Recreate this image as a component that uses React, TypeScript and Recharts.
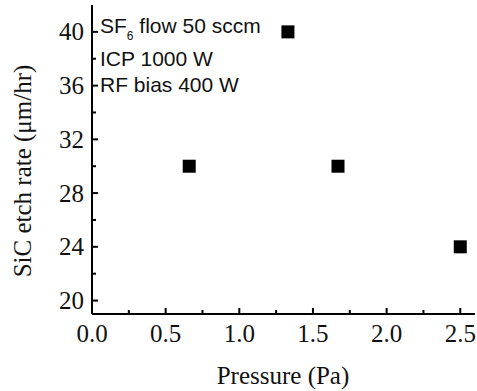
import React from 'react';
import { ScatterChart, Scatter, XAxis, YAxis, Customized } from 'recharts';

const pressure = [0.66, 1.33, 1.67, 2.5];
const etchRate = [30, 40, 30, 24];
const xMajorTicks = [0, 0.5, 1.0, 1.5, 2.0, 2.5];
const xMinorTicks = [0.25, 0.75, 1.25, 1.75, 2.25];
const yMajorTicks = [20, 24, 28, 32, 36, 40];
const yMinorTicks = [22, 26, 30, 34, 38];
const annotationLines = ['ICP 1000 W', 'RF bias 400 W'];

const data = pressure.map((p, i) => ({ p, r: etchRate[i] }));
const xTicks = [...xMajorTicks, ...xMinorTicks].sort((a, b) => a - b);
const yTicks = [...yMajorTicks, ...yMinorTicks].sort((a, b) => a - b);

const SERIF = '"Liberation Serif", "Times New Roman", serif';
const SANS = '"Liberation Sans", Arial, sans-serif';
const TICK_FS = 25;
const MAJOR = 6;
const MINOR = 4;

const isMajorX = (v: number) => xMajorTicks.some((t) => Math.abs(t - v) < 1e-9);
const isMajorY = (v: number) => yMajorTicks.some((t) => Math.abs(t - v) < 1e-9);

const BottomTick = (props: any) => {
  const { x, y, payload } = props;
  const major = isMajorX(payload.value);
  return (
    <g>
      <line x1={x} x2={x} y1={y} y2={y - (major ? MAJOR : MINOR)} stroke="#000" strokeWidth={2} />
      {major && (
        <text x={x} y={y + 28} textAnchor="middle" fontFamily={SERIF} fontSize={TICK_FS} fill="#111">
          {payload.value.toFixed(1)}
        </text>
      )}
    </g>
  );
};

const TopTick = (props: any) => {
  const { x, y, payload } = props;
  const major = isMajorX(payload.value);
  return <line x1={x} x2={x} y1={y} y2={y + (major ? MAJOR : MINOR)} stroke="#000" strokeWidth={2} />;
};

const LeftTick = (props: any) => {
  const { x, y, payload } = props;
  const major = isMajorY(payload.value);
  return (
    <g>
      <line x1={x} x2={x + (major ? MAJOR : MINOR)} y1={y} y2={y} stroke="#000" strokeWidth={2} />
      {major && (
        <text x={x - 8} y={y + 8.5} textAnchor="end" fontFamily={SERIF} fontSize={TICK_FS} fill="#111">
          {payload.value}
        </text>
      )}
    </g>
  );
};

const RightTick = (props: any) => {
  const { x, y, payload } = props;
  const major = isMajorY(payload.value);
  return <line x1={x} x2={x - (major ? MAJOR : MINOR)} y1={y} y2={y} stroke="#000" strokeWidth={2} />;
};

const SquareShape = (props: any) => {
  const { cx, cy } = props;
  const s = 13;
  return <rect x={cx - s / 2} y={cy - s / 2} width={s} height={s} fill="#000" />;
};

const Annotation = () => (
  <g fontFamily={SANS} fontSize={21} fill="#111">
    <text x={100} y={33}>
      SF
      <tspan fontSize={12} dy={7}>6</tspan>
      <tspan fontSize={21} dy={-7}> flow 50 sccm</tspan>
    </text>
    <text x={100} y={66}>{annotationLines[0]}</text>
    <text x={100} y={92}>{annotationLines[1]}</text>
    <text
      x={31}
      y={171}
      transform="rotate(-90, 31, 171)"
      textAnchor="middle"
      fontFamily={SERIF}
      fontSize={25}
    >
      SiC etch rate (μm/hr)
    </text>
    <text x={283} y={384} textAnchor="middle" fontFamily={SERIF} fontSize={25}>
      Pressure (Pa)
    </text>
  </g>
);

export default function App() {
  return (
    <div style={{ position: 'absolute', left: 0, top: 0, width: 477, height: 391, background: '#fff' }}>
      <ScatterChart width={477} height={391} margin={{ top: 5, right: 2, bottom: 0, left: 0 }}>
        <XAxis
          xAxisId="bottom"
          dataKey="p"
          type="number"
          domain={[0, 2.6]}
          allowDataOverflow
          ticks={xTicks}
          interval={0}
          height={77}
          tickSize={0}
          tickMargin={0}
          tickLine={false}
          axisLine={{ stroke: '#000', strokeWidth: 2 }}
          tick={<BottomTick />}
        />
        <XAxis
          xAxisId="top"
          orientation="top"
          type="number"
          domain={[0, 2.6]}
          allowDataOverflow
          ticks={xTicks}
          interval={0}
          height={0}
          tickSize={0}
          tickMargin={0}
          tickLine={false}
          axisLine={{ stroke: '#000', strokeWidth: 2 }}
          tick={<TopTick />}
        />
        <YAxis
          yAxisId="left"
          dataKey="r"
          type="number"
          domain={[19, 42]}
          allowDataOverflow
          ticks={yTicks}
          interval={0}
          width={92}
          tickSize={0}
          tickMargin={0}
          tickLine={false}
          axisLine={{ stroke: '#000', strokeWidth: 2 }}
          tick={<LeftTick />}
        />
        <YAxis
          yAxisId="right"
          orientation="right"
          type="number"
          domain={[19, 42]}
          allowDataOverflow
          ticks={yTicks}
          interval={0}
          width={0}
          tickSize={0}
          tickMargin={0}
          tickLine={false}
          axisLine={{ stroke: '#000', strokeWidth: 2 }}
          tick={<RightTick />}
        />
        <Scatter
          data={data}
          xAxisId="bottom"
          yAxisId="left"
          fill="#000"
          shape={<SquareShape />}
          isAnimationActive={false}
        />
        <Customized component={<Annotation />} />
      </ScatterChart>
    </div>
  );
}
